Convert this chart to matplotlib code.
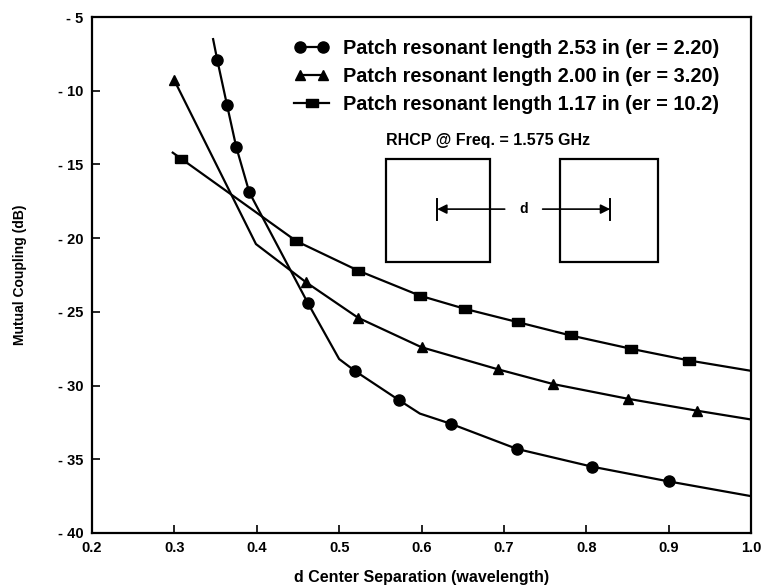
import matplotlib
matplotlib.use("Agg")
import matplotlib.pyplot as plt
from matplotlib.lines import Line2D
from matplotlib.legend_handler import HandlerLine2D
from matplotlib.patches import Rectangle

plt.rcParams['font.family'] = ['Liberation Sans', 'DejaVu Sans']
plt.rcParams['font.weight'] = 'bold'

# er = 2.20 (circles)
circ_x = [0.347, 0.352, 0.364, 0.375, 0.391, 0.462, 0.500, 0.519, 0.573, 0.598, 0.636, 0.716, 0.807, 0.900, 1.000]
circ_y = [-6.5, -7.9, -11.0, -13.8, -16.9, -24.4, -28.2, -29.0, -31.0, -31.9, -32.6, -34.3, -35.5, -36.5, -37.5]
circ_mk = [1, 2, 3, 4, 5, 7, 8, 10, 11, 12, 13]

# er = 3.20 (triangles)
tri_x = [0.300, 0.399, 0.460, 0.523, 0.600, 0.693, 0.760, 0.851, 0.934, 1.000]
tri_y = [-9.3, -20.4, -23.0, -25.4, -27.4, -28.9, -29.9, -30.9, -31.7, -32.3]
tri_mk = [0, 2, 3, 4, 5, 6, 7, 8]

# er = 10.2 (squares)
sq_x = [0.298, 0.308, 0.448, 0.523, 0.598, 0.653, 0.717, 0.781, 0.854, 0.925, 1.000]
sq_y = [-14.2, -14.6, -20.2, -22.2, -23.9, -24.8, -25.7, -26.6, -27.5, -28.3, -29.0]
sq_mk = [1, 2, 3, 4, 5, 6, 7, 8, 9]

labels = ["Patch resonant length 2.53 in (er = 2.20)",
          "Patch resonant length 2.00 in (er = 3.20)",
          "Patch resonant length 1.17 in (er = 10.2)"]

xticks = [0.2, 0.3, 0.4, 0.5, 0.6, 0.7, 0.8, 0.9, 1.0]
yticks = [-40, -35, -30, -25, -20, -15, -10, -5]

rect_mark = [(-1.6, -1), (1.6, -1), (1.6, 1), (-1.6, 1), (-1.6, -1)]

fig = plt.figure(figsize=(7.63, 5.87), dpi=100)
ax = fig.add_axes([0.1206, 0.092, 0.8637, 0.879])

ax.plot(circ_x, circ_y, color="black", lw=1.6, marker="o", ms=8, markevery=circ_mk)
ax.plot(tri_x, tri_y, color="black", lw=1.6, marker="^", ms=7, markevery=tri_mk)
ax.plot(sq_x, sq_y, color="black", lw=1.6, marker=rect_mark, ms=9, markevery=sq_mk)

ax.set_xlim(0.2, 1.0)
ax.set_ylim(-40, -5)
ax.set_xticks(xticks)
ax.set_xticklabels(["%.1f" % v for v in xticks])
ax.set_yticks(yticks)
ax.set_yticklabels(["- %d" % abs(v) for v in yticks])
ax.tick_params(direction="in", length=6, width=1.2, labelsize=10.5, pad=6)
for s in ax.spines.values():
    s.set_linewidth(1.6)

ax.set_xlabel("d Center Separation (wavelength)", fontsize=11.5, fontweight="bold")
ax.set_ylabel("Mutual Coupling (dB)", fontsize=10, fontweight="bold")
ax.xaxis.set_label_coords(0.5, -0.071)
ax.yaxis.set_label_coords(-0.098, 0.5)

# legend
h1 = Line2D([], [], color="black", lw=1.6, marker="o", ms=8)
h2 = Line2D([], [], color="black", lw=1.6, marker="^", ms=7)
h3 = Line2D([], [], color="black", lw=1.6, marker=rect_mark, ms=9)
ax.legend([h1, h2, h3], labels, loc="upper left", bbox_to_anchor=(0.306, 0.957),
          frameon=False, fontsize=14.3, handlelength=1.8, handletextpad=0.7,
          labelspacing=0.45, borderpad=0, borderaxespad=0,
          handler_map={h1: HandlerLine2D(numpoints=2), h2: HandlerLine2D(numpoints=2),
                       h3: HandlerLine2D(numpoints=1)})

# inset sketch
ax.text(0.557, -13.7, "RHCP @ Freq. = 1.575 GHz", fontsize=11.5, fontweight="bold")
ax.add_patch(Rectangle((0.557, -21.6), 0.126, 7.0, fill=False, lw=1.6, color="black"))
ax.add_patch(Rectangle((0.768, -21.6), 0.119, 7.0, fill=False, lw=1.6, color="black"))
ax.annotate("", xy=(0.619, -18.03), xytext=(0.701, -18.03),
            arrowprops=dict(arrowstyle="-|>", color="black", lw=1.2, mutation_scale=14, shrinkA=0, shrinkB=0))
ax.annotate("", xy=(0.829, -18.03), xytext=(0.747, -18.03),
            arrowprops=dict(arrowstyle="-|>", color="black", lw=1.2, mutation_scale=14, shrinkA=0, shrinkB=0))
ax.plot([0.619, 0.619], [-17.35, -18.75], color="black", lw=1.4)
ax.plot([0.829, 0.829], [-17.35, -18.75], color="black", lw=1.4)
ax.text(0.724, -18.03, "d", fontsize=10, fontweight="bold", ha="center", va="center")

fig.savefig("out.png", dpi=100)
